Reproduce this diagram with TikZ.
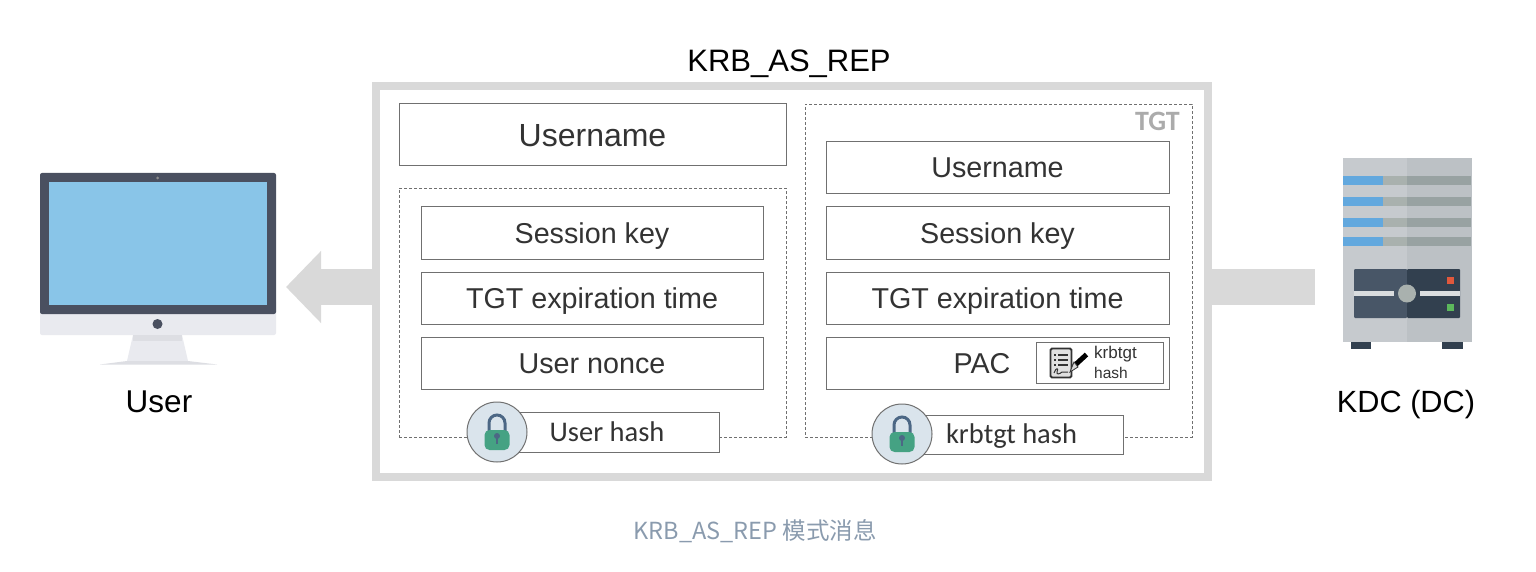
\documentclass[tikz,border=0pt]{standalone}
\usepackage{fontspec}
\setmainfont{Liberation Sans}
\newfontfamily\carlitofont{Carlito}
\newfontfamily\cjkfont{Noto Sans CJK SC}
\usetikzlibrary{arrows.meta}
\newcommand{\fsz}[1]{\fontsize{#1}{#1}\selectfont}
\definecolor{linegray}{HTML}{707070}
\definecolor{framegray}{HTML}{D9D9D9}
\definecolor{txt}{HTML}{333333}
\definecolor{monDark}{HTML}{4A5060}
\definecolor{monBlue}{HTML}{89C5E8}
\definecolor{monLight}{HTML}{E9EAEF}
\definecolor{monMid}{HTML}{DDDEE3}
\definecolor{srvL}{HTML}{C6CACE}
\definecolor{srvR}{HTML}{BCC1C5}
\definecolor{srvBlue}{HTML}{62A8DE}
\definecolor{srvG1}{HTML}{A9B1AE}
\definecolor{srvG2}{HTML}{98A2A2}
\definecolor{panL}{HTML}{485667}
\definecolor{panR}{HTML}{32404F}
\definecolor{lockBg}{HTML}{DAE4EC}
\definecolor{lockGreen}{HTML}{45A283}
\definecolor{lockBlue}{HTML}{4C6785}
\definecolor{capgray}{HTML}{8A9BAE}
\definecolor{ledRed}{HTML}{E0583C}
\definecolor{ledGreen}{HTML}{5CB85C}
\tikzset{
  recbox/.style 2 args={draw=linegray,line width=1pt,fill=white,minimum width=#1,minimum height=#2,inner sep=0pt,outer sep=0pt,text=txt},
  dashbox/.style 2 args={draw=linegray,line width=0.8pt,densely dashed,minimum width=#1,minimum height=#2,inner sep=0pt,outer sep=0pt},
  lockcirc/.style={circle,draw=linegray,line width=1pt,fill=lockBg,minimum size=60pt,inner sep=0pt},
  labelbig/.style={font=\fsz{28.7},text=txt,inner sep=0pt,text height=20pt,text depth=0pt},
  hashlbl/.style={font=\carlitofont\fsz{28.5},text=txt,inner sep=0pt,text height=19pt,text depth=0pt},
  lockicon/.pic={
    \draw[lockBlue,line width=3pt] (-8,1) -- (-8,-9) arc[start angle=180,end angle=360,radius=8] -- (8,1);
    \fill[lockGreen,rounded corners=5pt] (-12.5,-2) rectangle (12.5,18);
    \fill[lockBlue] (0,4) circle[radius=3];
    \fill[lockBlue] (-1.3,4) rectangle (1.3,12);
  }
}
\begin{document}
\begin{tikzpicture}[x=1pt,y=-1pt]
\useasboundingbox (0,0) rectangle (1536,572);
\fill[white] (0,0) rectangle (1536,572);

% outer frame
\node[draw=framegray,line width=8pt,minimum width=832pt,minimum height=391pt,inner sep=0pt,outer sep=4pt] (frame) at (792,281.5) {};
\node[font=\fsz{31},inner sep=0pt,text=black,text height=22pt,text depth=0pt] (title) at (789,61) {KRB\_AS\_REP};

% arrows
\coordinate (userTip) at (286,287);
\coordinate (kdcEnd) at (1315,287);
\draw[framegray,line width=36pt,-{Triangle[length=35pt,width=70pt]}] (frame.west |- userTip) -- (userTip);
\draw[framegray,line width=36pt] (frame.east |- kdcEnd) -- (kdcEnd);

% left column
\node[recbox={387pt}{62pt},font=\fsz{32},text height=23pt,text depth=0pt] (uname) at (592.5,135) {Username};
\node[dashbox={387pt}{249pt}] (userEnc) at (592.5,312.5) {};
\node[recbox={342pt}{52pt},labelbig] (lsess) at (592,233) {Session key};
\node[recbox={342pt}{52pt},labelbig] (lexp) at (592,298) {TGT expiration time};
\node[recbox={342pt}{52pt},labelbig] (lnonce) at (592,363) {User nonce};
\node[recbox={222pt}{40pt}] (lhash) at (608,432) {};
\node[hashlbl,anchor=center] (lhashT) at (607,432) {User hash};
\node[lockcirc] (llock) at (497,432) {};
\pic at (llock.center) {lockicon};

% right column
\node[dashbox={387pt}{333pt}] (tgtbox) at (998.5,270.5) {};
\node[font=\carlitofont\bfseries\fsz{28},text=black!33,inner sep=0pt,text height=18pt,text depth=0pt] (tgtlbl) at (1157.5,122) {TGT};
\node[recbox={343pt}{52pt},labelbig] (runame) at (997.5,168) {Username};
\node[recbox={343pt}{52pt},labelbig] (rsess) at (997.5,233) {Session key};
\node[recbox={343pt}{52pt},labelbig] (rexp) at (997.5,298) {TGT expiration time};
\node[recbox={343pt}{52pt}] (rpac) at (997.5,363) {};
\node[labelbig] (pactxt) at (982,363) {PAC};
\node[recbox={127pt}{41pt}] (sign) at (1099.5,362.5) {};
\node[font=\fsz{17},text=txt,inner sep=0pt,anchor=west] (signT1) at (1094,354) {krbtgt};
\node[font=\fsz{15.5},text=txt,inner sep=0pt,anchor=west] (signT2) at (1094,373) {hash};
% signature icon
\draw[black!80,line width=1.8pt,fill=black!12,rounded corners=1.5pt] (1050.5,348.5) rectangle (1071.5,377.5);
\foreach \yy in {355,360,365}{
  \fill[black!80] (1054,\yy-1) rectangle (1056,\yy+1);
  \draw[black!80,line width=1.3pt] (1058,\yy) -- (1068,\yy);
}
\draw[black!80,line width=1pt] (1054,373) .. controls (1056,367) and (1059,368) .. (1057,372) .. controls (1056,375) and (1060,374) .. (1062,372) -- (1068,372);
\draw[black,line width=5pt] (1086.5,354.5) -- (1074,366);
\fill[black!15,draw=black!80,line width=.8pt] (1074,362) -- (1078,367) -- (1070,372) -- cycle;

\node[recbox={222pt}{39pt}] (rhash) at (1012,434.5) {};
\node[hashlbl,anchor=center] (rhashT) at (1011.5,434) {krbtgt hash};
\node[lockcirc] (rlock) at (902,434) {};
\pic at (rlock.center) {lockicon};

% monitor
\fill[monLight,rounded corners=2pt] (40,300) rectangle (276,335);
\fill[monLight] (133,335) -- (182,335) -- (188,361) -- (127,361) -- cycle;
\fill[monMid] (133,335) rectangle (182,341);
\fill[monMid] (127,361) -- (188,361) -- (217,364.5) -- (100,364.5) -- cycle;
\fill[monDark,rounded corners=2pt] (40,173) -- (276,173) -- (276,314) -- (40,314) -- cycle;
\fill[monBlue] (49,182) rectangle (267,305);
\fill[black!45] (157.5,178) circle[radius=1.5];
\fill[monDark] (157.5,324) circle[radius=5];
\node[font=\fsz{31.5},inner sep=0pt,text=black,text height=21pt,text depth=0pt] (userlbl) at (159,402) {User};

% server
\fill[panR] (1351,342) rectangle (1371,349);
\fill[panR] (1442,342) rectangle (1463,349);
\fill[srvL] (1343,158) rectangle (1407,342);
\fill[srvR] (1407,158) rectangle (1472,342);
\foreach \ya/\yb in {176/185,197/206,218/227,237/246}{
  \fill[srvBlue] (1343,\ya) rectangle (1383,\yb);
  \fill[srvG1] (1383,\ya) rectangle (1407,\yb);
  \fill[srvG2] (1407,\ya) rectangle (1471,\yb);
}
\fill[panL,rounded corners=1pt] (1354,269) rectangle (1407,318);
\fill[panR,rounded corners=1pt] (1407,269) rectangle (1460,318);
\fill[srvR!55!white] (1354,291) rectangle (1394,296);
\fill[srvR!55!white] (1420,291) rectangle (1460,296);
\fill[srvG1] (1407,293.5) circle[radius=9];
\fill[ledRed] (1447,277) rectangle (1454,284);
\fill[ledGreen] (1447,304) rectangle (1454,311);
\node[font=\fsz{30.7},inner sep=0pt,text=black,text height=21pt,text depth=0pt] (kdclbl) at (1406,402) {KDC (DC)};

% caption
\node[font=\cjkfont\fsz{23.5},text=capgray,inner sep=0pt] (caption) at (755,531.5) {KRB\_AS\_REP 模式消息};
\end{tikzpicture}
\end{document}
